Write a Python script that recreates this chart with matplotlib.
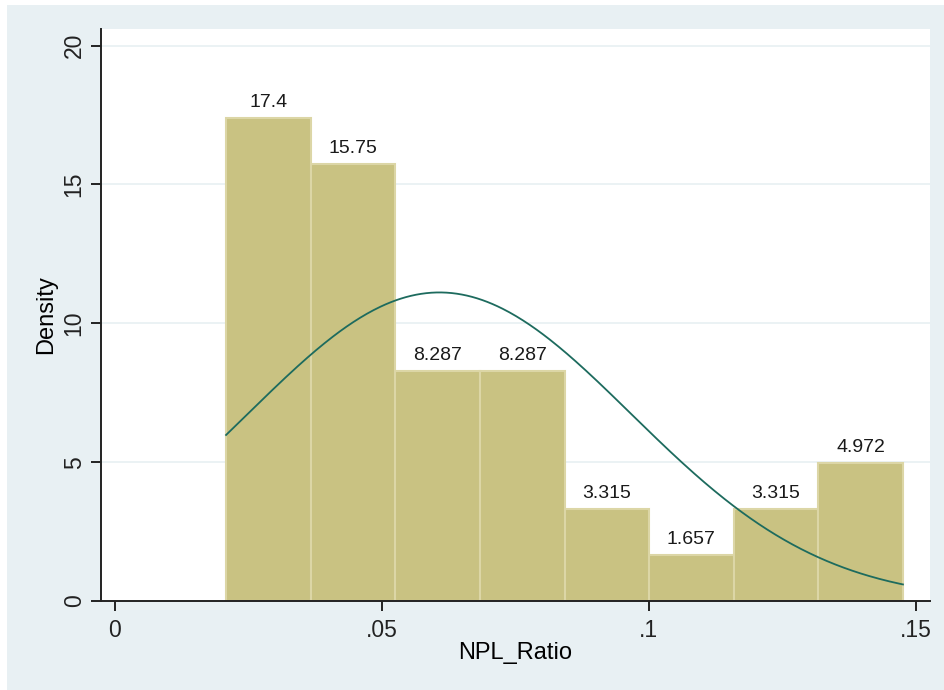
import numpy as np
import matplotlib
matplotlib.use("Agg")
import matplotlib.pyplot as plt
from matplotlib.patches import Rectangle

# Histogram of NPL_Ratio (density scale) with a normal overlay
bin_start = 0.02083
bin_width = 0.01585
densities = [17.4, 15.75, 8.287, 8.287, 3.315, 1.657, 3.315, 4.972]
bar_labels = ["17.4", "15.75", "8.287", "8.287", "3.315", "1.657", "3.315", "4.972"]
norm_mean = 0.0608
norm_sd = 0.0359
x_ticks = [0, 0.05, 0.1, 0.15]
x_tick_labels = ["0", ".05", ".1", ".15"]
y_ticks = [0, 5, 10, 15, 20]
y_tick_labels = ["0", "5", "10", "15", "20"]

plt.rcParams["font.family"] = ["Liberation Sans", "DejaVu Sans"]

fig = plt.figure(figsize=(9.44, 6.9), dpi=100)
fig.patch.set_facecolor("white")
fig.patches.append(Rectangle((7 / 944, 0), 1, 1 - 5 / 690, transform=fig.transFigure,
                             facecolor="#e8f0f3", edgecolor="none", zorder=-10))

ax = fig.add_axes([101 / 944, 89 / 690, (930 - 101) / 944, (601 - 29) / 690])
ax.set_facecolor("white")

edges = bin_start + bin_width * np.arange(len(densities))
ax.bar(edges, densities, width=bin_width, align="edge", color="#c9c282",
       edgecolor="#dcd6a6", linewidth=1.5, zorder=2)

for x0, d, lab in zip(edges, densities, bar_labels):
    ax.text(x0 + bin_width / 2, d + 0.4, lab, ha="center", va="baseline",
            fontsize=14, color="#1a1a1a", zorder=4)

xs = np.linspace(edges[0], edges[-1] + bin_width, 400)
ys = np.exp(-0.5 * ((xs - norm_mean) / norm_sd) ** 2) / (norm_sd * np.sqrt(2 * np.pi))
ax.plot(xs, ys, color="#1d6b5e", linewidth=1.3, zorder=3)

ax.set_xlim(-0.0026, 0.1527)
ax.set_ylim(0, 20.6)
ax.set_xticks(x_ticks)
ax.set_xticklabels(x_tick_labels)
ax.set_yticks(y_ticks)
ax.set_yticklabels(y_tick_labels, rotation=90, va="center")

for y in y_ticks[1:]:
    ax.axhline(y, color="#e8f0f2", linewidth=1.2, zorder=1)

for s in ["top", "right"]:
    ax.spines[s].set_visible(False)
for s in ["left", "bottom"]:
    ax.spines[s].set_linewidth(1.4)
    ax.spines[s].set_color("#222222")

ax.tick_params(axis="both", direction="out", length=7, width=1.4, labelsize=16.5,
               colors="#222222")
ax.tick_params(axis="y", pad=4)
ax.tick_params(axis="x", pad=6)

ax.set_xlabel("NPL_Ratio", fontsize=17, labelpad=0)
ax.set_ylabel("Density", fontsize=17, labelpad=4)

fig.savefig("out.png", dpi=100)
